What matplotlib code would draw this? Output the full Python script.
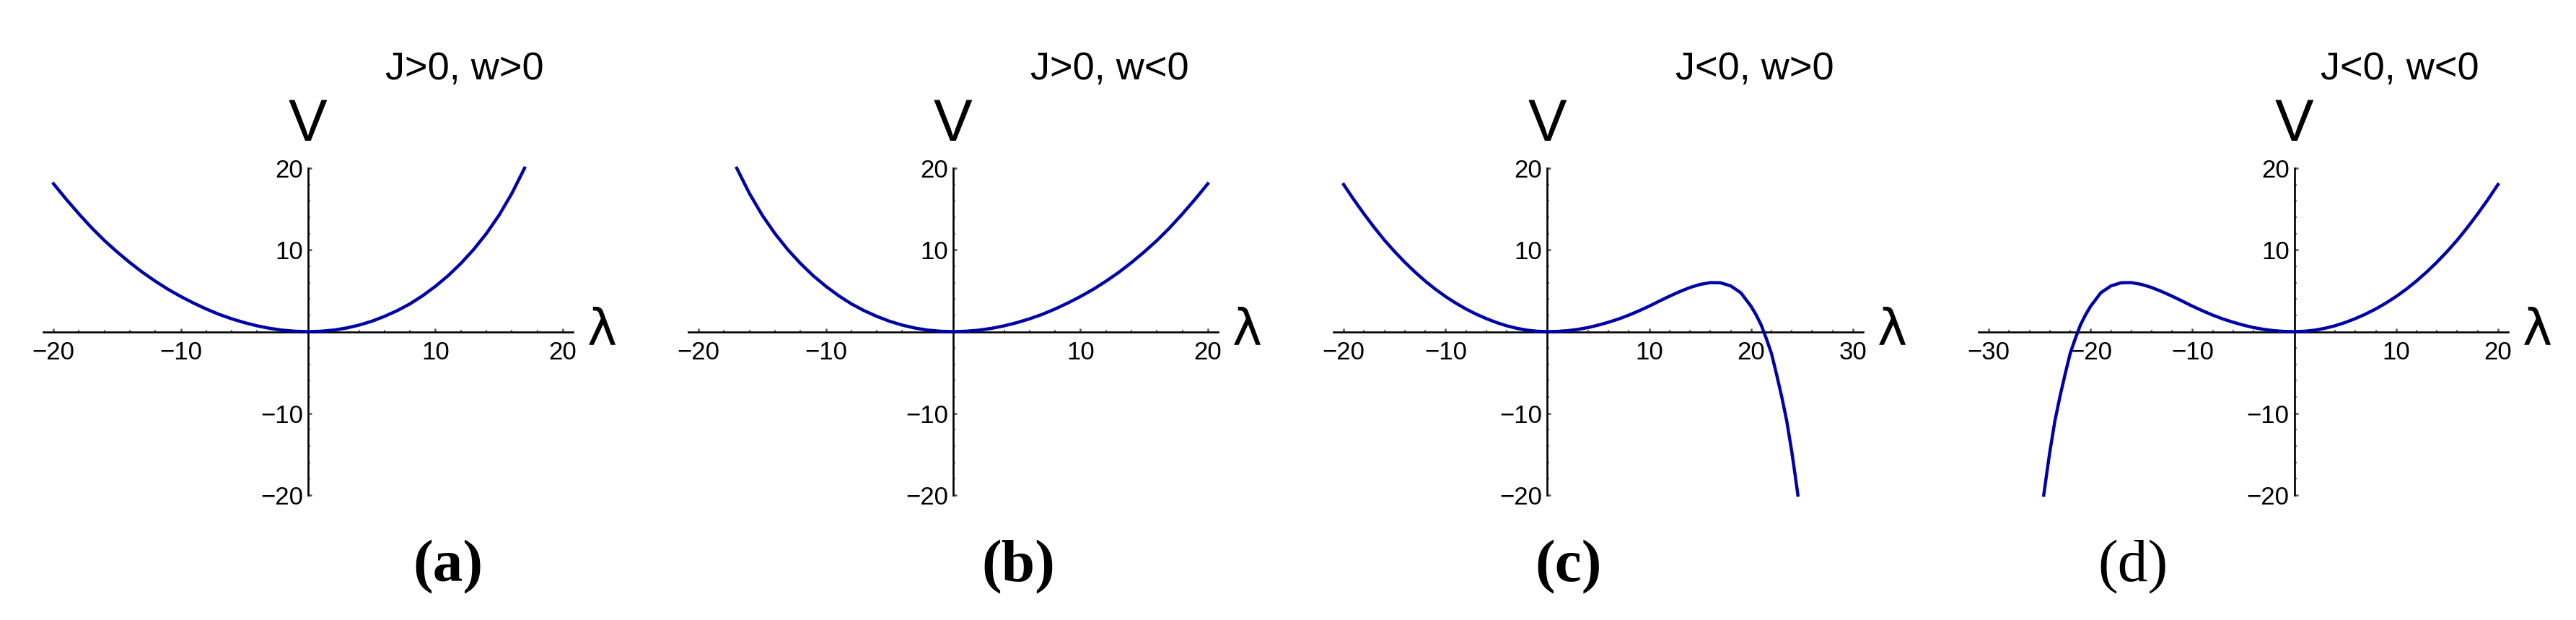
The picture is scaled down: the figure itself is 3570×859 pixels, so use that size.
import matplotlib.pyplot as plt
from matplotlib.ticker import FixedLocator

plt.rcParams['font.family'] = ['Liberation Sans', 'DejaVu Sans']

# potential V(lambda)
lam_a = [-20, -19, -18, -17, -16, -15, -14, -13, -12, -11, -10, -9, -8, -7, -6,
         -5, -4, -3, -2, -1, 0, 1, 2, 3, 4, 5, 6, 7, 8, 9, 10, 11, 12, 13, 14,
         15, 16, 17]
v_a = [18.1, 16.2, 14.4, 12.7, 11.15, 9.75, 8.45, 7.25, 6.17, 5.18, 4.3, 3.5,
       2.77, 2.12, 1.57, 1.1, 0.71, 0.4, 0.18, 0.05, 0.0, 0.05, 0.19, 0.44, 0.8,
       1.27, 1.87, 2.57, 3.4, 4.4, 5.55, 6.85, 8.35, 10.05, 12.0, 14.25, 16.9,
       20.0]

lam_c = [-20, -19, -18, -17, -16, -15, -14, -13, -12, -11, -10, -9, -8, -7, -6,
         -5, -4, -3, -2, -1, 0, 1, 2, 3, 4, 5, 6, 7, 8, 9, 10, 11, 12, 13, 14,
         15, 16, 17, 18, 19, 20, 20.5, 21, 21.5, 22, 22.5, 23, 23.5, 24, 24.3,
         24.6]
v_c = [18.0, 16.15, 14.4, 12.75, 11.2, 9.8, 8.5, 7.3, 6.2, 5.2, 4.3, 3.5, 2.78,
       2.15, 1.6, 1.12, 0.72, 0.41, 0.18, 0.05, 0.0, 0.03, 0.12, 0.28, 0.5, 0.8,
       1.15, 1.55, 2.02, 2.55, 3.12, 3.74, 4.34, 4.9, 5.4, 5.78, 6.0, 5.98, 5.6,
       4.75, 3.1, 2.05, 0.8, -0.85, -2.65, -5.2, -7.9, -10.9, -14.7, -17.3,
       -20.0]

# (b) and (d) are the mirror images of (a) and (c)
lam_b = [-x for x in reversed(lam_a)]
v_b = list(reversed(v_a))
lam_d = [-x for x in reversed(lam_c)]
v_d = list(reversed(v_c))

titles = ['J>0, w>0', 'J>0, w<0', 'J<0, w>0', 'J<0, w<0']
tags = ['(a)', '(b)', '(c)', '(d)']
xranges = [(-20, 20), (-20, 20), (-20, 30), (-30, 20)]
curves = [(lam_a, v_a), (lam_b, v_b), (lam_c, v_c), (lam_d, v_d)]

W, H = 3570, 859
fig = plt.figure(figsize=(W / 100, H / 100), dpi=100)

ax_left = [60, 954, 1848, 2742]
ax_w = 734
y_top, y_bot = 233, 686
tag_x = [621, 1411, 2174, 2956]
tag_weight = ['bold', 'bold', 'bold', 'normal']

for i in range(4):
    lo, hi = xranges[i]
    pad = (hi - lo) * 0.02
    ax = fig.add_axes([ax_left[i] / W, (H - y_bot) / H, ax_w / W, (y_bot - y_top) / H])
    ax.set_facecolor('none')
    lam, v = curves[i]
    ax.plot(lam, v, color='#0000a8', lw=3.2, zorder=3, clip_on=False)
    ax.set_xlim(lo - pad, hi + pad)
    ax.set_ylim(-20, 20)

    for s in ['top', 'right']:
        ax.spines[s].set_visible(False)
    for s in ['left', 'bottom']:
        ax.spines[s].set_position(('data', 0))
        ax.spines[s].set_linewidth(1.9)
        ax.spines[s].set_zorder(2)

    xmaj = [t for t in range(lo, hi + 1, 10) if t != 0]
    ax.set_xticks(xmaj)
    ax.xaxis.set_minor_locator(FixedLocator([t for t in range(lo, hi + 1, 2) if t % 10]))
    ax.set_yticks([-20, -10, 10, 20])
    ax.yaxis.set_minor_locator(FixedLocator([t for t in range(-20, 21, 2) if t % 10]))
    ax.tick_params(which='major', direction='in', length=3.8, width=1.8,
                   color='#555555', labelsize=25)
    ax.tick_params(which='minor', direction='in', length=2.2, width=1.5,
                   color='#777777')
    ax.tick_params(axis='x', which='major', pad=9)
    ax.tick_params(axis='y', which='major', pad=5)

    x0 = ax_left[i] + ax_w * (0 - (lo - pad)) / (hi - lo + 2 * pad)
    x_end = ax_left[i] + ax_w
    fig.text((ax_left[i] + 584) / W, 1 - 96 / H, titles[i], fontsize=39,
             ha='center', va='center')
    fig.text(x0 / W, 1 - 174 / H, 'V', fontsize=58, ha='center', va='center')
    fig.text((x_end + 40) / W, 1 - 458 / H, 'λ', fontsize=50, family='DejaVu Sans',
             ha='center', va='center')
    fig.text(tag_x[i] / W, 1 - 786 / H, tags[i], fontsize=60, family='Liberation Serif',
             weight=tag_weight[i], ha='center', va='center')

fig.savefig('out.png', dpi=100)
